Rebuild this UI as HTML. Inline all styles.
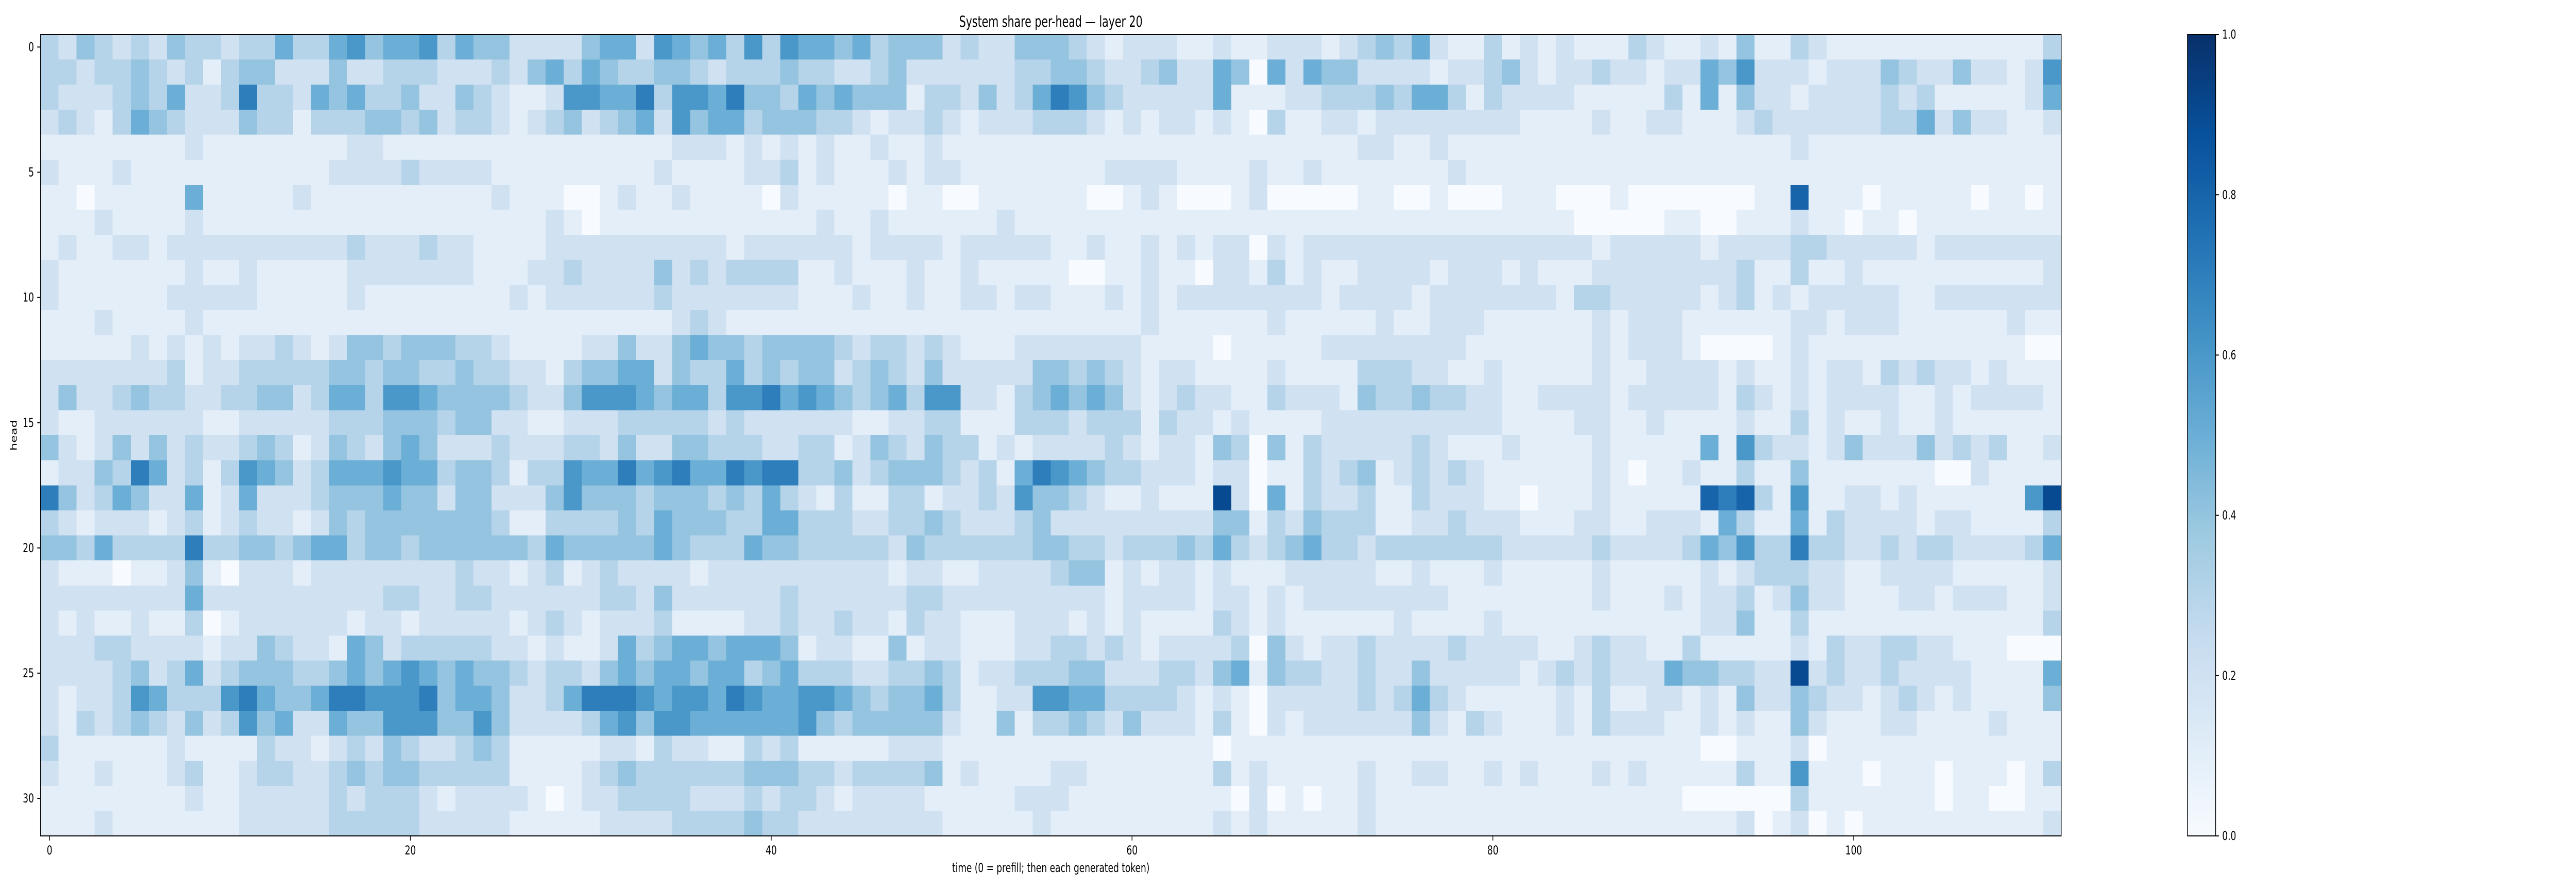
<!DOCTYPE html>
<html>
<head>
<meta charset="utf-8">
<meta name="viewport" content="width=device-width, initial-scale=1">
<style>
html,body{margin:0;padding:0;background:#fff;overflow:hidden;width:100%;height:100%;}
svg{display:block;position:fixed;left:0;top:0;width:100vw;height:100vh;font-family:"DejaVu Sans","Liberation Sans",sans-serif;}
</style>
</head>
<body>
<svg id="chart" viewBox="0 0 7055 1728" preserveAspectRatio="none" xmlns="http://www.w3.org/2000/svg">
  <defs>
    <linearGradient id="cbgrad" x1="0" y1="1" x2="0" y2="0">
      <stop offset="0" stop-color="#f7fbff"/>
      <stop offset="0.125" stop-color="#deebf7"/>
      <stop offset="0.25" stop-color="#c6dbef"/>
      <stop offset="0.375" stop-color="#9ecae1"/>
      <stop offset="0.5" stop-color="#6baed6"/>
      <stop offset="0.625" stop-color="#4292c6"/>
      <stop offset="0.75" stop-color="#2171b5"/>
      <stop offset="0.875" stop-color="#08519c"/>
      <stop offset="1" stop-color="#08306b"/>
    </linearGradient>
    <clipPath id="plotclip"><rect x="111" y="67" width="5534" height="1556"/></clipPath>
  </defs>
  <rect x="0" y="0" width="7055" height="1728" fill="#fff"/>
  <text x="2878" y="52" font-size="29" text-anchor="middle" fill="#000">System share per-head — layer 20</text>
  <g id="cells" shape-rendering="crispEdges" clip-path="url(#plotclip)"></g>
  <rect x="111" y="67" width="5534" height="1556" fill="none" stroke="#000" stroke-width="2"/>
  <g id="xaxis"></g>
  <g id="yaxis"></g>
  <text x="2878" y="1693" font-size="24" text-anchor="middle" fill="#000">time (0 = prefill; then each generated token)</text>
  <text x="0" y="0" font-size="24" text-anchor="middle" dominant-baseline="central" fill="#000" transform="translate(38,845) rotate(-90)">head</text>
  <g id="colorbar">
    <rect x="5991" y="67" width="77" height="1556" fill="url(#cbgrad)" stroke="#000" stroke-width="2"/>
  </g>
</svg>
<script>
const xTicks = [0, 20, 40, 60, 80, 100];
const yTicks = [0, 5, 10, 15, 20, 25, 30];
const cbTicks = [0.0, 0.2, 0.4, 0.6, 0.8, 1.0];
const cbTickLabels = ["0.0", "0.2", "0.4", "0.6", "0.8", "1.0"];
// values in tenths (value = tenths / 10); rows = heads 0..31, columns = time 0..111
const shareTenths = [
[3,2,4,3,2,3,2,4,3,3,2,3,3,5,3,3,5,6,4,5,5,6,3,5,4,4,2,2, 2,2,4,5,5,2,6,5,4,5,3,6,3,6,5,5,4,5,3,4,4,4,2,3,2,2,4,4, 4,3,2,1,2,2,2,1,1,2,1,1,2,2,2,1,2,3,4,3,5,2,1,1,3,1,2,1, 2,1,1,1,3,2,1,1,2,1,4,1,1,3,2,1,1,1,1,1,1,1,1,1,1,1,1,3],
[3,3,2,3,3,4,3,2,3,1,3,4,4,2,2,2,4,2,2,3,3,3,2,2,2,3,2,4, 5,3,5,4,3,3,4,4,3,2,3,3,3,4,3,3,2,2,3,4,2,2,2,2,2,2,3,3, 4,4,3,2,2,3,4,2,2,5,4,0,5,2,5,4,4,2,2,2,2,1,2,2,3,4,2,1, 2,2,3,2,2,1,2,2,5,4,6,2,2,2,1,2,2,2,4,3,2,2,4,2,2,1,2,6],
[3,2,2,2,3,4,3,5,2,2,3,7,3,3,2,5,4,5,3,3,4,2,2,4,3,2,1,1, 2,6,6,5,5,7,3,6,6,5,7,4,4,3,5,4,5,4,4,4,1,3,3,2,4,2,3,5, 7,6,4,3,2,2,2,2,2,5,1,1,1,2,2,3,3,3,4,3,5,5,3,1,3,2,2,2, 2,1,1,1,1,1,3,1,5,1,4,2,2,1,2,2,2,2,3,2,3,1,1,1,1,1,2,5],
[2,3,2,1,3,5,4,3,2,2,2,4,3,3,1,3,3,3,4,4,3,4,2,3,3,2,1,2, 3,4,2,3,4,5,2,6,4,5,5,3,4,4,4,3,3,2,1,2,2,3,2,1,2,2,2,3, 3,3,2,1,2,1,2,2,1,2,1,0,3,1,1,2,2,1,2,2,2,2,2,2,2,2,1,1, 1,1,2,1,1,2,2,1,1,1,2,3,2,2,2,2,2,2,3,3,5,2,4,2,2,1,1,2],
[1,1,1,1,1,1,1,1,2,1,1,1,1,1,1,1,1,2,2,1,1,1,1,1,1,1,1,1, 1,1,1,1,1,1,1,2,2,2,1,2,1,2,1,2,1,1,2,1,1,2,1,1,1,1,1,1, 1,1,1,1,1,1,1,1,1,1,1,1,1,1,1,1,1,2,2,1,1,2,1,1,1,1,1,1, 1,1,1,1,1,1,1,1,1,1,1,1,1,2,1,1,1,1,1,1,1,1,1,1,1,1,1,1],
[2,1,1,1,2,1,1,1,1,1,1,1,1,1,1,1,2,2,2,2,3,2,2,2,2,1,1,1, 1,1,1,1,1,1,2,1,1,1,1,2,2,3,1,2,1,1,1,2,1,2,2,1,1,1,1,1, 1,1,1,2,2,2,2,1,1,1,1,2,1,1,2,1,1,1,1,1,1,1,2,1,1,1,1,1, 1,1,1,1,1,1,1,1,1,1,1,1,1,1,1,1,1,1,1,1,1,1,1,1,1,1,1,1],
[1,1,0,1,1,1,1,1,5,1,1,1,1,1,2,1,1,1,1,1,1,1,1,1,1,2,1,1, 1,0,0,1,2,1,1,2,1,1,1,1,0,2,1,1,1,1,1,0,1,1,0,0,1,1,1,1, 1,1,0,0,1,2,1,0,0,0,1,2,0,0,0,0,0,1,1,0,0,1,0,0,0,1,1,1, 0,0,0,1,0,0,0,0,0,0,0,1,1,8,1,1,1,0,1,1,1,1,1,0,1,1,0,1],
[1,1,1,2,1,1,1,1,2,1,1,1,1,1,1,1,1,1,1,1,1,1,1,1,1,1,1,1, 2,1,0,1,1,1,1,1,1,1,1,1,1,1,1,2,1,1,2,1,1,1,1,1,1,2,1,1, 1,1,1,1,1,1,1,1,1,1,1,1,1,1,1,1,1,1,1,1,1,1,1,1,1,1,1,1, 1,0,0,0,0,0,1,1,0,0,1,1,1,2,1,1,0,1,1,0,1,1,1,1,1,1,1,1],
[1,2,1,1,2,2,1,2,2,2,2,2,2,2,2,2,2,3,2,2,2,3,2,2,1,1,1,1, 2,2,2,2,2,2,2,2,2,2,1,2,2,2,2,2,2,1,2,2,2,2,1,2,2,2,2,2, 1,1,2,1,1,2,1,2,1,2,2,0,2,1,2,2,2,2,2,2,2,2,2,2,2,2,2,2, 2,2,1,2,2,2,2,2,1,2,2,2,2,3,3,2,2,2,2,2,1,2,2,2,2,2,2,2],
[2,1,1,1,1,1,1,1,2,1,1,2,1,1,1,1,1,2,2,2,2,2,2,2,1,1,1,2, 2,3,2,2,2,2,4,2,3,2,3,3,3,3,1,1,2,1,1,1,2,1,1,2,1,1,1,1, 1,0,0,1,1,2,1,1,0,2,2,1,3,1,2,1,1,2,2,2,2,1,2,2,2,1,2,1, 1,1,2,2,2,2,2,2,2,2,3,1,1,3,1,1,2,1,1,1,1,1,1,1,1,1,1,2],
[2,1,1,1,1,1,1,2,2,2,2,2,1,1,1,1,1,2,1,1,1,1,1,1,1,1,2,1, 2,2,2,2,2,2,3,2,2,2,2,2,2,2,1,1,1,2,1,1,2,1,1,2,2,1,2,2, 1,1,1,2,1,2,1,2,2,2,2,2,2,2,2,1,2,2,2,2,1,2,2,2,2,2,2,2, 1,3,3,2,2,2,2,2,1,2,3,1,2,1,2,2,2,2,2,1,1,2,2,2,2,2,2,2],
[1,1,1,2,1,1,1,1,2,1,1,1,1,1,1,1,1,1,1,1,1,1,1,1,1,1,1,1, 1,1,1,1,1,1,1,2,3,2,1,1,1,1,1,1,1,1,1,1,1,1,1,1,1,1,1,1, 1,1,1,1,1,2,1,1,1,1,1,1,2,1,1,1,1,1,2,1,1,2,2,2,1,1,1,1, 1,1,2,1,2,2,2,1,1,1,1,1,1,2,2,1,2,2,2,1,1,1,1,1,1,2,1,1],
[1,1,1,1,1,2,1,2,1,2,1,2,2,3,2,1,2,4,4,3,4,4,4,3,3,2,1,1, 1,1,2,2,4,2,2,4,5,4,4,3,4,4,4,4,3,2,3,3,2,3,2,1,1,1,2,2, 2,2,2,2,2,1,1,1,1,0,1,1,1,1,1,2,2,2,2,2,2,2,2,1,1,1,1,1, 1,1,2,1,2,2,2,1,0,0,0,0,1,2,1,1,1,1,1,1,1,1,1,1,1,1,0,0],
[2,2,2,2,2,2,2,3,1,2,2,3,3,3,3,3,4,4,3,4,4,3,3,4,3,3,2,2, 1,3,4,4,5,5,2,4,3,3,5,3,4,3,4,4,2,3,4,3,2,4,2,2,2,2,2,4, 4,3,4,3,2,1,2,2,1,1,1,1,2,1,1,1,1,3,3,3,2,2,1,1,2,1,1,1, 1,1,2,1,1,2,2,2,2,1,2,1,1,2,1,2,2,1,3,2,3,2,2,1,2,1,1,1],
[2,4,2,2,3,4,3,3,2,2,3,3,4,4,2,3,5,5,3,6,6,5,4,4,4,4,3,2, 2,4,6,6,6,5,4,5,5,3,6,6,7,5,6,5,4,3,4,5,3,6,6,2,2,1,3,4, 5,4,5,4,2,1,2,3,2,2,1,1,3,2,2,2,1,4,3,3,4,3,3,2,2,1,1,2, 2,2,2,1,2,2,2,2,2,1,3,2,1,2,1,2,2,2,2,1,1,2,1,2,2,2,2,1],
[2,1,1,2,2,2,2,2,2,1,1,2,2,2,2,2,3,3,3,4,4,4,3,4,4,2,2,1, 1,2,2,2,3,3,3,3,3,2,3,2,2,2,2,2,2,1,1,2,2,3,3,1,1,1,3,3, 3,2,3,3,3,1,3,2,2,1,2,1,1,1,1,2,2,2,2,2,2,2,2,2,2,1,1,1, 1,2,2,1,1,2,1,1,1,1,2,1,1,3,1,2,1,1,2,1,1,2,1,1,1,1,1,1],
[4,2,1,2,4,2,4,2,3,2,2,3,4,3,1,2,4,3,2,4,5,4,2,2,2,3,2,2, 2,3,3,2,4,2,2,4,4,3,3,3,2,2,3,3,1,2,4,3,2,4,3,3,1,2,1,2, 2,2,2,3,2,1,2,2,1,4,3,0,4,1,3,2,2,2,2,2,3,2,1,1,1,2,1,1, 1,1,2,1,1,1,1,1,5,1,6,3,2,2,1,2,4,2,2,2,4,2,3,2,3,1,1,2],
[1,2,2,4,3,7,5,2,3,1,3,6,5,4,2,3,5,5,5,6,5,5,3,4,4,3,1,3, 3,6,5,5,7,5,6,7,5,5,7,6,7,7,3,3,4,2,3,4,4,4,3,2,3,1,5,7, 6,5,4,3,3,2,2,2,1,2,2,0,1,1,3,2,3,4,1,2,3,2,3,2,1,1,1,1, 1,1,2,1,0,1,1,2,1,1,3,1,1,4,1,1,1,1,1,1,1,0,0,2,1,1,1,1],
[7,4,2,3,5,4,2,2,5,1,2,5,2,2,2,3,4,4,4,5,4,4,2,4,4,2,2,2, 4,6,4,4,4,3,4,4,4,3,4,3,5,3,2,1,3,1,1,3,3,1,2,2,3,2,6,4, 4,3,2,1,1,2,1,1,1,9,2,0,5,1,3,2,2,3,1,1,3,2,2,2,1,1,0,1, 1,1,2,1,1,1,1,1,8,7,8,3,1,6,1,1,2,2,1,2,1,1,1,1,1,1,6,9],
[3,2,1,2,2,2,1,2,3,1,2,3,2,2,1,2,4,3,4,4,4,4,4,4,4,3,1,1, 3,3,3,3,4,3,5,4,4,4,3,3,5,5,3,3,3,2,2,3,3,4,3,2,2,2,3,4, 2,2,2,2,2,2,2,2,2,4,4,1,3,2,4,3,3,3,1,1,2,2,3,2,2,2,1,1, 1,2,2,1,1,2,2,2,1,5,3,1,1,5,1,3,2,2,2,2,1,2,2,1,1,1,1,3],
[4,4,3,5,3,3,3,3,7,3,3,4,4,3,4,5,5,3,4,4,3,4,4,4,4,4,4,3, 5,4,4,4,4,4,5,4,3,3,3,5,4,4,3,3,3,3,3,2,4,3,3,3,3,3,3,4, 4,3,3,2,3,3,3,4,3,5,3,2,3,4,5,3,3,2,3,3,3,3,3,3,3,2,2,2, 2,2,3,2,2,2,2,3,5,4,6,3,3,7,3,3,2,2,3,2,3,3,2,2,2,2,3,5],
[2,1,1,1,0,1,1,2,4,1,0,2,2,2,1,2,2,2,2,2,2,2,2,3,2,2,1,2, 3,1,2,3,2,2,2,2,1,2,2,2,2,2,2,2,2,2,2,1,2,2,1,1,2,2,2,2, 3,4,4,1,2,1,2,2,1,2,1,1,1,2,2,2,2,2,1,1,2,1,1,1,2,1,1,1, 1,1,2,1,1,1,1,1,2,1,2,3,3,3,2,2,1,1,2,2,2,2,1,1,1,1,1,2],
[2,2,2,2,2,2,2,2,5,2,2,2,2,2,2,2,2,2,2,3,3,2,2,3,3,2,2,2, 2,2,2,3,3,2,4,2,2,2,2,2,2,3,2,2,2,2,2,2,3,3,2,2,2,2,2,2, 2,2,2,1,2,2,2,2,1,2,2,1,2,1,2,2,2,2,2,2,2,2,1,1,1,1,1,1, 1,1,2,1,1,1,2,1,2,2,3,1,2,4,2,2,1,1,1,2,2,1,2,2,2,1,1,2],
[2,1,2,1,1,2,1,1,3,0,1,2,2,2,2,2,2,1,2,2,1,2,2,2,2,2,1,2, 3,2,1,2,2,2,3,1,1,1,1,2,2,3,2,2,3,2,2,1,3,2,2,1,1,1,2,2, 2,1,2,1,2,1,1,1,1,3,2,1,2,1,1,1,1,1,1,2,1,1,1,1,2,1,1,1, 1,1,1,1,1,1,1,1,2,2,4,1,1,3,1,1,1,1,1,1,1,1,1,1,1,1,1,3],
[2,2,2,3,3,2,2,2,2,1,2,2,4,3,2,2,1,5,4,2,3,3,3,3,3,2,2,1, 2,1,1,2,5,3,4,5,5,4,5,5,5,4,1,2,2,1,1,4,1,2,2,1,1,1,2,2, 3,3,2,3,2,1,2,2,2,2,3,0,4,2,1,2,2,3,2,2,2,2,3,2,2,2,2,1, 1,2,3,2,2,1,1,3,1,1,1,1,1,2,1,3,2,2,3,3,2,2,1,1,1,0,0,0],
[2,2,2,2,3,4,2,3,5,2,3,4,4,4,3,3,4,5,4,5,6,5,4,5,4,4,3,2, 3,3,2,4,5,4,5,5,4,5,5,3,4,5,3,3,3,2,2,3,3,4,3,1,2,2,3,3, 3,4,4,2,2,2,3,3,2,4,5,1,4,3,3,2,2,3,2,2,4,2,2,2,2,2,1,2, 3,2,3,2,2,2,5,4,4,3,3,2,2,9,2,3,2,2,3,2,2,2,2,1,1,1,1,5],
[2,1,2,2,3,6,5,3,3,3,6,7,5,4,4,5,7,7,6,6,6,7,4,5,5,4,2,2, 3,5,7,7,7,6,5,6,6,5,7,6,5,5,6,6,5,4,3,4,4,5,3,1,1,2,2,6, 6,5,5,3,3,3,3,2,1,2,1,0,2,2,2,2,2,3,2,3,5,3,2,1,1,1,1,1, 2,1,3,1,1,2,2,1,2,1,4,2,2,4,3,2,2,1,2,3,2,1,2,1,1,1,1,4],
[2,1,3,2,3,4,3,2,4,2,3,6,4,5,2,2,5,4,4,6,6,6,4,4,6,4,2,2, 2,2,3,5,6,4,6,6,5,5,5,5,5,5,6,4,3,4,4,4,4,4,2,1,1,4,1,3, 3,4,3,2,4,2,2,2,1,3,1,0,2,1,2,2,2,2,2,2,4,2,1,3,2,1,1,1, 2,1,3,2,2,2,1,1,2,1,2,1,1,4,2,1,1,1,2,2,1,1,1,1,2,1,1,1],
[3,1,1,1,1,1,1,2,1,1,1,1,3,2,2,1,2,3,2,4,3,2,2,3,4,3,1,1, 1,1,1,2,2,1,3,2,2,1,1,3,2,3,1,1,1,1,1,2,2,2,1,1,1,1,1,1, 1,1,1,1,1,1,1,1,1,0,1,1,1,1,1,1,1,1,1,1,1,1,1,1,1,1,1,1, 1,1,1,1,1,1,1,1,0,0,1,1,1,2,0,1,1,1,1,1,1,1,1,1,1,1,1,1],
[2,1,1,2,1,1,1,2,3,1,1,2,3,3,2,2,3,4,3,4,4,3,3,3,3,3,1,1, 1,1,2,3,4,3,3,3,3,3,3,4,4,4,3,3,2,3,3,3,3,4,1,2,1,1,1,1, 2,2,1,1,1,1,1,1,1,3,1,2,1,1,1,1,1,2,1,1,2,2,1,1,2,1,2,1, 1,1,2,1,2,1,1,1,1,1,3,1,1,6,1,1,1,0,1,1,1,0,1,1,1,0,1,3],
[1,1,1,1,1,1,1,1,2,1,1,2,2,2,2,2,3,2,3,3,3,2,1,2,2,2,2,1, 0,1,2,2,3,3,3,3,2,2,2,3,2,3,3,2,1,2,2,2,2,1,1,1,1,1,2,2, 2,1,1,1,1,1,1,1,1,1,0,2,0,1,0,1,1,2,1,1,1,1,1,1,1,1,1,1, 1,1,1,1,1,1,1,0,0,0,0,0,0,3,1,1,1,1,1,1,1,0,1,1,0,0,1,1],
[1,1,1,2,1,1,1,1,1,1,1,2,2,2,2,2,3,3,3,3,3,2,2,2,2,2,1,1, 1,1,1,2,2,2,2,3,3,3,3,4,3,3,2,2,2,2,2,2,2,2,1,1,1,1,1,2, 1,1,1,1,1,1,1,1,1,2,1,2,1,1,1,1,1,2,1,1,1,1,1,1,1,1,1,1, 1,1,1,1,1,1,1,1,1,1,2,0,1,2,0,1,0,1,1,1,1,1,1,1,1,1,1,2]
];

const NS = "http://www.w3.org/2000/svg";
const PX0 = 111, PX1 = 5645, PY0 = 67, PY1 = 1623;
const nCols = 112, nRows = 32;
const cw = (PX1 - PX0) / nCols, ch = (PY1 - PY0) / nRows;
function xScale(t) { return PX0 + (t + 0.5) * cw; }
function yScale(h) { return PY0 + (h + 0.5) * ch; }
const blues = ["#f7fbff","#deebf7","#c6dbef","#9ecae1","#6baed6","#4292c6","#2171b5","#08519c","#08306b"];
function hex2rgb(h){return [parseInt(h.substr(1,2),16),parseInt(h.substr(3,2),16),parseInt(h.substr(5,2),16)];}
function colorOf(v){
  v = Math.max(0, Math.min(1, v));
  const p = v * (blues.length - 1);
  const i = Math.min(Math.floor(p), blues.length - 2);
  const f = p - i;
  const a = hex2rgb(blues[i]), b = hex2rgb(blues[i+1]);
  const c = a.map((x,k)=>Math.round(x + (b[k]-x)*f));
  return "rgb(" + c.join(",") + ")";
}
const cells = document.getElementById("cells");
shareTenths.forEach((row, h) => {
  if (h >= nRows) return;
  row.forEach((d, t) => {
    if (t >= nCols) return;
    const v = d / 10;
    const r = document.createElementNS(NS, "rect");
    r.setAttribute("x", (xScale(t) - cw/2).toFixed(2));
    r.setAttribute("y", (yScale(h) - ch/2).toFixed(2));
    r.setAttribute("width", (cw + 0.6).toFixed(2));
    r.setAttribute("height", (ch + 0.6).toFixed(2));
    r.setAttribute("fill", colorOf(v));
    
    
    cells.appendChild(r);
  });
});
const xaxis = document.getElementById("xaxis");
xTicks.forEach(t => {
  const x = xScale(t);
  const l = document.createElementNS(NS, "line");
  l.setAttribute("x1", x); l.setAttribute("x2", x);
  l.setAttribute("y1", PY1); l.setAttribute("y2", PY1 + 9);
  l.setAttribute("stroke", "#000"); l.setAttribute("stroke-width", "2");
  
  
  xaxis.appendChild(l);
  const tx = document.createElementNS(NS, "text");
  tx.setAttribute("x", x); tx.setAttribute("y", 1659);
  tx.setAttribute("font-size", "24"); tx.setAttribute("text-anchor", "middle");
  tx.textContent = String(t);
  
  
  xaxis.appendChild(tx);
});
const yaxis = document.getElementById("yaxis");
yTicks.forEach(h => {
  const y = yScale(h);
  const l = document.createElementNS(NS, "line");
  l.setAttribute("x1", PX0 - 9); l.setAttribute("x2", PX0);
  l.setAttribute("y1", y); l.setAttribute("y2", y);
  l.setAttribute("stroke", "#000"); l.setAttribute("stroke-width", "2");
  
  
  yaxis.appendChild(l);
  const tx = document.createElementNS(NS, "text");
  tx.setAttribute("x", PX0 - 18); tx.setAttribute("y", y);
  tx.setAttribute("font-size", "24"); tx.setAttribute("text-anchor", "end");
  tx.setAttribute("dominant-baseline", "central");
  tx.textContent = String(h);
  
  
  yaxis.appendChild(tx);
});
const cb = document.getElementById("colorbar");
const CBX1 = 6068;
function cbScale(v){ return PY1 - v * (PY1 - PY0); }
cbTicks.forEach((v, i) => {
  const y = cbScale(v);
  const l = document.createElementNS(NS, "line");
  l.setAttribute("x1", CBX1); l.setAttribute("x2", CBX1 + 9);
  l.setAttribute("y1", y); l.setAttribute("y2", y);
  l.setAttribute("stroke", "#000"); l.setAttribute("stroke-width", "2");
  
  
  cb.appendChild(l);
  const tx = document.createElementNS(NS, "text");
  tx.setAttribute("x", CBX1 + 18); tx.setAttribute("y", y);
  tx.setAttribute("font-size", "24"); tx.setAttribute("dominant-baseline", "central");
  tx.textContent = cbTickLabels[i];
  
  
  cb.appendChild(tx);
});
</script>
</body>
</html>
